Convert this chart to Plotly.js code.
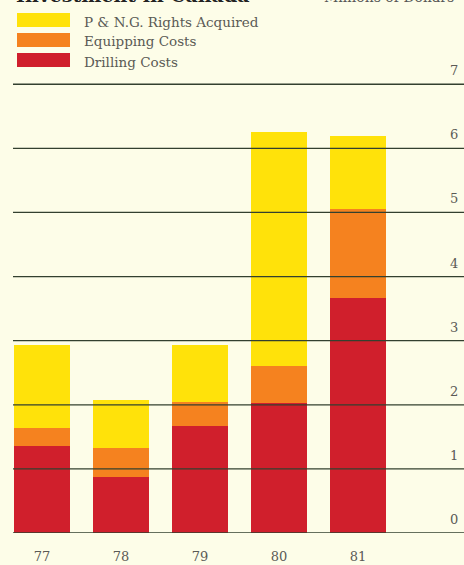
<!DOCTYPE html>
<html><head><meta charset="utf-8">
<script src="https://cdn.plot.ly/plotly-3.0.1.min.js"></script>
<style>html,body{margin:0;padding:0;background:#FDFDE8;}#chart{width:464px;height:565px;}</style>
</head><body><div id="chart"></div>
<script>
// ---- data ----
const years = ["77", "78", "79", "80", "81"];
const drillingCosts = [1.36, 0.87, 1.67, 2.03, 3.67];
const equippingCosts = [0.28, 0.46, 0.37, 0.58, 1.38];
const rightsAcquired = [1.29, 0.74, 0.89, 3.65, 1.14];
const seriesNames = ["P & N.G. Rights Acquired", "Equipping Costs", "Drilling Costs"];
const yTickValues = [0, 1, 2, 3, 4, 5, 6, 7];
const yTickLabels = ["0", "1", "2", "3", "4", "5", "6", "7"];
const chartTitle = "Investment in Canada";
const unitsLabel = "Millions of Dollars";

// ---- styling ----
const colors = {rights: "#FFE20A", equip: "#F5821F", drill: "#D01F2C"};
const bg = "#FDFDE8";
const textColor = "#5a5a55";
const W = 464, H = 565;
const M = {l: 13, r: 0, t: 65, b: 32};
const pw = W - M.l - M.r, ph = H - M.t - M.b;
const px2x = p => (p - M.l) / pw;
const px2y = p => (H - M.b - p) / ph;

const barWidth = 0.71;
const traces = [
  {type: "bar", x: years, y: drillingCosts, name: seriesNames[2], marker: {color: colors.drill, line: {width: 0}}, width: barWidth},
  {type: "bar", x: years, y: equippingCosts, name: seriesNames[1], marker: {color: colors.equip, line: {width: 0}}, width: barWidth},
  {type: "bar", x: years, y: rightsAcquired, name: seriesNames[0], marker: {color: colors.rights, line: {width: 0}}, width: barWidth}
];

const shapes = yTickValues.map(v => ({
  type: "line", layer: "above", xref: "paper", yref: "y",
  x0: 0, x1: 1, y0: v, y1: v,
  line: {color: "#33402f", width: 1.3}
}));
const legendColors = [colors.rights, colors.equip, colors.drill];
const legendRows = [20, 40, 60];
const annotations = [];
seriesNames.forEach((n, i) => {
  shapes.push({type: "rect", xref: "paper", yref: "paper", layer: "above",
    x0: px2x(17), x1: px2x(70), y0: px2y(legendRows[i] + 7), y1: px2y(legendRows[i] - 7),
    fillcolor: legendColors[i], line: {width: 0}});
  annotations.push({xref: "paper", yref: "paper", x: px2x(82), y: px2y(legendRows[i] + 1.5),
    xanchor: "left", yanchor: "middle", showarrow: false, text: n,
    font: {family: "DejaVu Serif", size: 13.5, color: textColor}});
});
yTickValues.forEach((v, i) => {
  annotations.push({xref: "paper", yref: "y", x: 1, y: v, xanchor: "right", yanchor: "bottom",
    xshift: -4, yshift: 4, showarrow: false, text: yTickLabels[i],
    font: {family: "DejaVu Serif", size: 13, color: textColor}});
});
annotations.push({xref: "paper", yref: "paper", x: px2x(14), y: px2y(8), xanchor: "left", yanchor: "bottom",
  showarrow: false, text: "<b>" + chartTitle + "</b>", font: {family: "DejaVu Serif", size: 19, color: "#222"}});
annotations.push({xref: "paper", yref: "paper", x: px2x(322), y: px2y(7), xanchor: "left", yanchor: "bottom",
  showarrow: false, text: unitsLabel, font: {family: "DejaVu Serif", size: 14, color: "#555"}});

const layout = {
  width: W, height: H,
  margin: M,
  paper_bgcolor: bg, plot_bgcolor: bg,
  barmode: "stack",
  showlegend: false,
  xaxis: {type: "category", range: [-0.367, 5.34], showgrid: false, zeroline: false, showline: false,
    ticks: "outside", ticklen: 11, tickcolor: "rgba(0,0,0,0)",
    tickfont: {family: "DejaVu Serif", size: 13, color: textColor}, fixedrange: true},
  yaxis: {range: [0, 7.3], showgrid: false, zeroline: false, showline: false, showticklabels: false, ticks: "", fixedrange: true},
  shapes: shapes,
  annotations: annotations
};
Plotly.newPlot("chart", traces, layout, {displayModeBar: false, staticPlot: true});
</script></body></html>
